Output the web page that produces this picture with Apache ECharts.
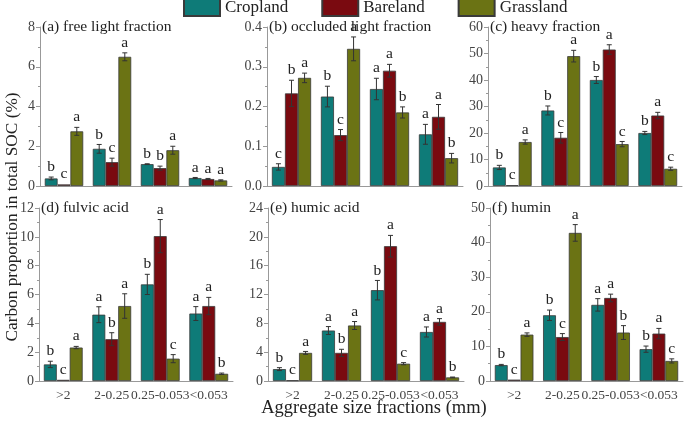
<!DOCTYPE html>
<html><head><meta charset="utf-8">
<script src="https://cdn.jsdelivr.net/npm/echarts@6/dist/echarts.min.js"></script>
<style>html,body{margin:0;padding:0;background:#fff}#c{width:685px;height:426px}</style>
</head><body><div id="c"></div>
<script>
const categories = ['>2', '2-0.25', '0.25-0.053', '<0.053'];
const seriesNames = ['Cropland', 'Bareland', 'Grassland'];
const colors = ['#0e7b78', '#7a0a10', '#6b7314'];

// each panel: rows = Cropland, Bareland, Grassland; columns = categories
const freeLightVals = [[0.38, 1.87, 1.10, 0.40], [0.08, 1.20, 0.90, 0.35], [2.75, 6.50, 1.80, 0.28]];
const freeLightErrs = [[0.07, 0.22, 0.02, 0.03], [0, 0.20, 0.10, 0.03], [0.20, 0.20, 0.20, 0.03]];
const freeLightLetters = [['b', 'b', 'b', 'a'], ['c', 'c', 'b', 'a'], ['a', 'a', 'a', 'a']];

const occludedVals = [[0.048, 0.225, 0.244, 0.130], [0.233, 0.128, 0.290, 0.174], [0.272, 0.345, 0.185, 0.070]];
const occludedErrs = [[0.008, 0.026, 0.027, 0.025], [0.033, 0.014, 0.016, 0.031], [0.012, 0.030, 0.014, 0.012]];
const occludedLetters = [['c', 'b', 'a', 'a'], ['b', 'c', 'a', 'a'], ['a', 'a', 'b', 'b']];

const heavyVals = [[7.0, 28.5, 40.0, 20.0], [0.3, 18.2, 51.5, 26.6], [16.6, 49.0, 15.8, 6.5]];
const heavyErrs = [[0.8, 1.7, 1.3, 0.6], [0, 2.0, 1.8, 1.2], [0.8, 2.2, 1.0, 0.6]];
const heavyLetters = [['b', 'b', 'b', 'b'], ['c', 'c', 'a', 'a'], ['a', 'a', 'c', 'c']];

const fulvicVals = [[1.15, 4.60, 6.70, 4.68], [0.08, 2.90, 10.05, 5.20], [2.32, 5.20, 1.55, 0.50]];
const fulvicErrs = [[0.22, 0.55, 0.70, 0.48], [0, 0.45, 1.15, 0.60], [0.08, 0.85, 0.28, 0.05]];
const fulvicLetters = [['b', 'a', 'b', 'a'], ['c', 'b', 'a', 'a'], ['a', 'a', 'c', 'b']];

const humicVals = [[1.65, 7.0, 12.6, 6.8], [0.10, 3.9, 18.7, 8.2], [3.9, 7.7, 2.4, 0.5]];
const humicErrs = [[0.20, 0.55, 1.35, 0.70], [0, 0.50, 1.50, 0.45], [0.20, 0.55, 0.15, 0.05]];
const humicLetters = [['b', 'a', 'b', 'a'], ['c', 'b', 'a', 'a'], ['a', 'a', 'c', 'b']];

const huminVals = [[4.6, 19.0, 22.0, 9.2], [0.4, 12.7, 24.0, 13.7], [13.4, 42.8, 14.0, 5.8]];
const huminErrs = [[0.2, 1.5, 1.8, 0.9], [0, 1.0, 1.1, 1.5], [0.5, 2.4, 2.0, 0.6]];
const huminLetters = [['b', 'b', 'a', 'b'], ['c', 'c', 'a', 'a'], ['a', 'a', 'b', 'c']];

const panelTitles = ['(a) free light fraction', '(b) occluded light fraction', '(c) heavy fraction',
  '(d) fulvic acid', '(e) humic acid', '(f) humin'];
const panelMax = [8, 0.4, 60, 12, 24, 50];
const panelInterval = [2, 0.1, 10, 2, 4, 10];
const panelDecimals = [0, 1, 0, 0, 0, 0];

const panelVals = [freeLightVals, occludedVals, heavyVals, fulvicVals, humicVals, huminVals];
const panelErrs = [freeLightErrs, occludedErrs, heavyErrs, fulvicErrs, humicErrs, huminErrs];
const panelLetters = [freeLightLetters, occludedLetters, heavyLetters, fulvicLetters, humicLetters, huminLetters];

const gridBoxes = [
  {left: 40, top: 27, width: 192, height: 159},
  {left: 267, top: 27, width: 196, height: 159},
  {left: 488, top: 27, width: 194, height: 159},
  {left: 39, top: 208, width: 194, height: 173},
  {left: 268, top: 208, width: 196, height: 173},
  {left: 490, top: 208, width: 193, height: 173}
];

const FONT = 'Liberation Serif';
const GAP = 0.2;

const grid = [], xAxis = [], yAxis = [], series = [], graphic = [];
gridBoxes.forEach((g, p) => {
  grid.push(Object.assign({containLabel: false}, g));
  xAxis.push({
    type: 'category', gridIndex: p, data: categories,
    axisLine: {lineStyle: {color: '#999'}},
    axisTick: {alignWithLabel: true, length: 4, lineStyle: {color: '#999'}},
    axisLabel: {show: p >= 3, color: '#444', fontFamily: FONT, fontSize: 13.5, margin: 7, interval: 0,
      hideOverlap: false},
    splitLine: {show: false}
  });
  yAxis.push({
    type: 'value', gridIndex: p, min: 0, max: panelMax[p], interval: panelInterval[p],
    axisLine: {show: true, lineStyle: {color: '#999'}},
    axisTick: {show: true, length: 4, lineStyle: {color: '#999'}},
    minorTick: {show: true, splitNumber: 2, length: 2, lineStyle: {color: '#999'}},
    axisLabel: {color: '#444', fontFamily: FONT, fontSize: 14, margin: 5,
      formatter: v => v.toFixed(panelDecimals[p])},
    splitLine: {show: false}
  });
  graphic.push({type: 'text', left: g.left + 2, top: g.top - 8,
    style: {text: panelTitles[p], font: '15.5px "' + FONT + '"', fill: '#222'}});
  for (let k = 0; k < 3; k++) {
    series.push({
      type: 'bar', name: seriesNames[k], xAxisIndex: p, yAxisIndex: p,
      data: panelVals[p][k], barGap: '0%', barCategoryGap: (GAP * 100) + '%',
      itemStyle: {color: colors[k], borderColor: '#3a3a3a', borderWidth: 0.8},
      emphasis: {disabled: true}, animation: false
    });
  }
  for (let k = 0; k < 3; k++) {
    const letters = panelLetters[p][k];
    series.push({
      type: 'custom', name: seriesNames[k] + ' err', xAxisIndex: p, yAxisIndex: p, z: 5,
      data: panelVals[p][k].map((v, i) => [i, v, panelErrs[p][k][i]]),
      encode: {x: 0, y: 1}, animation: false, silent: true,
      renderItem: (params, api) => {
        const i = api.value(0), v = api.value(1), e = api.value(2);
        const band = api.size([1, 0])[0];
        const bw = band * (1 - GAP) / 3;
        const x = api.coord([i, 0])[0] - band * (1 - GAP) / 2 + (k + 0.5) * bw;
        const yTop = api.coord([i, v + e])[1];
        const yBot = api.coord([i, Math.max(v - e, 0)])[1];
        const children = [];
        const ls = {stroke: '#333', lineWidth: 1};
        if (e > 0) {
          children.push({type: 'line', shape: {x1: x, y1: yTop, x2: x, y2: yBot}, style: ls});
          children.push({type: 'line', shape: {x1: x - 2.5, y1: yTop, x2: x + 2.5, y2: yTop}, style: ls});
          children.push({type: 'line', shape: {x1: x - 2.5, y1: yBot, x2: x + 2.5, y2: yBot}, style: ls});
        }
        children.push({type: 'text', x: x, y: yTop - 2,
          style: {text: letters[params.dataIndex], font: '15.5px "' + FONT + '"', fill: '#222',
            textAlign: 'center', textVerticalAlign: 'bottom'}});
        return {type: 'group', children: children};
      }
    });
  }
});

graphic.push({type: 'text', x: 12, y: 217, rotation: Math.PI / 2, originX: 0, originY: 0,
  style: {text: 'Carbon proportion in total SOC (%)', font: '17.3px "' + FONT + '"', fill: '#222',
    textAlign: 'center', textVerticalAlign: 'middle'}});
graphic.push({type: 'text', x: 374, y: 408,
  style: {text: 'Aggregate size fractions (mm)', font: '18.5px "' + FONT + '"', fill: '#222',
    textAlign: 'center', textVerticalAlign: 'middle'}});

const chart = echarts.init(document.getElementById('c'));
chart.setOption({
  animation: false,
  legend: {
    data: seriesNames.map(n => ({name: n, icon: 'rect'})), top: -2, left: 183,
    itemWidth: 36, itemHeight: 17, itemGap: 33, padding: 0,
    textStyle: {fontFamily: FONT, fontSize: 17, color: '#222'}, selectedMode: false
  },
  grid, xAxis, yAxis, series, graphic
});
</script></body></html>
